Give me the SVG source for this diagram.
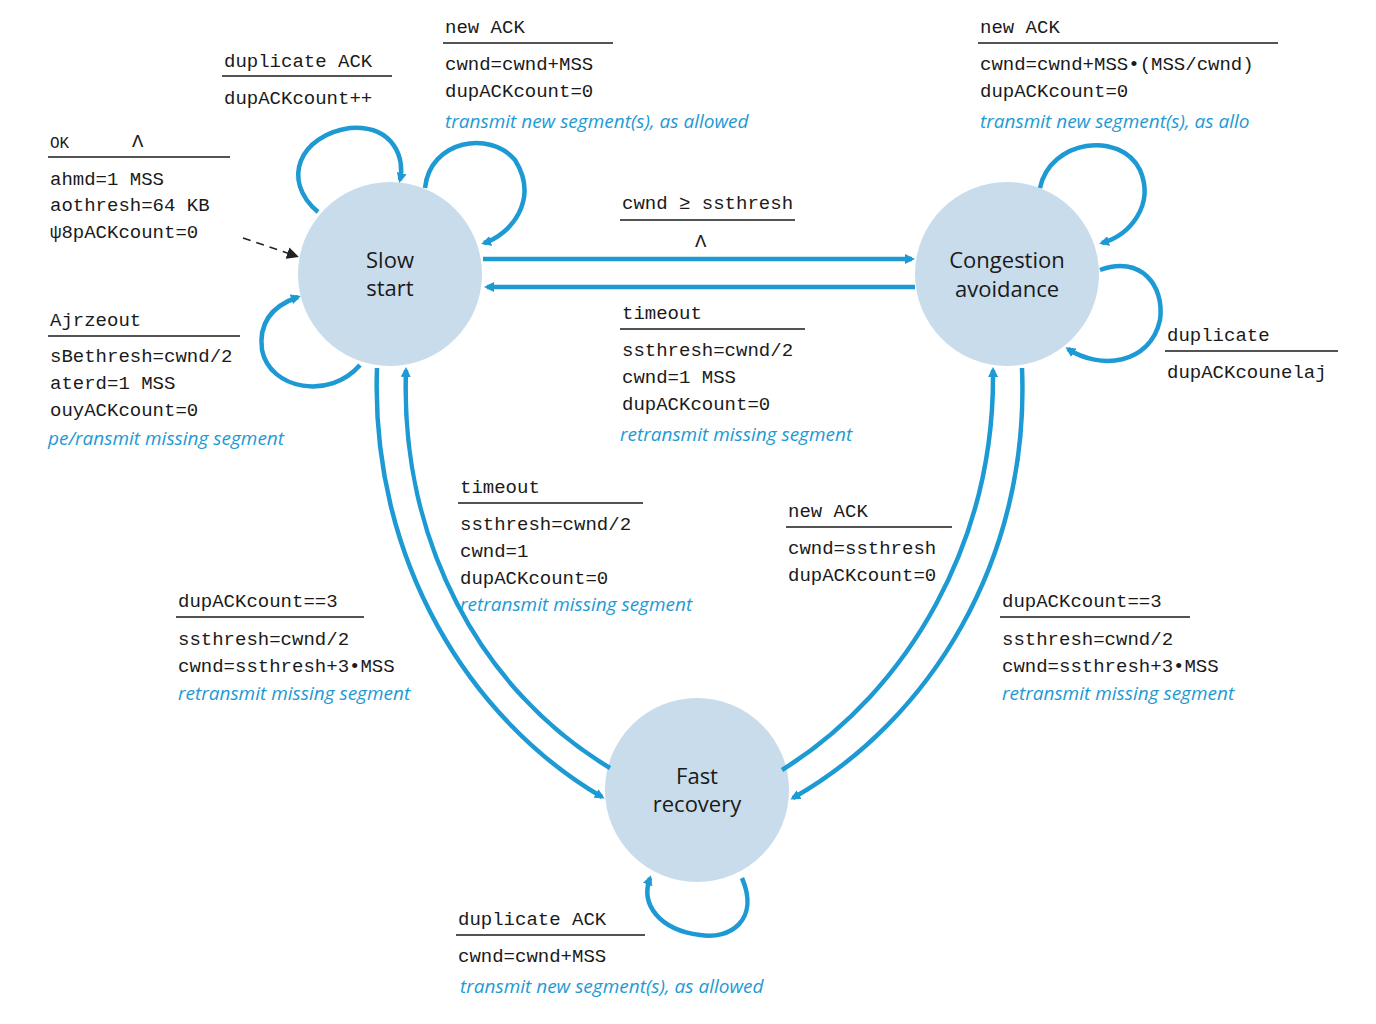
<svg xmlns="http://www.w3.org/2000/svg" width="1376" height="1024" viewBox="0 0 1376 1024">
<style>
.m{font-family:"Liberation Mono","DejaVu Sans Mono",monospace;font-size:19px;fill:#1a1a1a}
.b{font-family:"Open Sans","Liberation Sans",sans-serif;font-size:19px;font-style:italic;fill:#1d9ad4}
.n{font-family:"Open Sans","Liberation Sans",sans-serif;font-size:22px;fill:#1a1a1a;text-anchor:middle}
.st{fill:#c8dceb}
.u{stroke:#1a1a1a;stroke-width:1.6}
.c{fill:none;stroke:#1d9ad4;stroke-width:4.5}
</style>
<defs>
<marker id="a" markerWidth="10" markerHeight="10" refX="7" refY="5" orient="auto" markerUnits="userSpaceOnUse" viewBox="0 0 10 10"><path d="M0,0L10,5L0,10z" fill="#1d9ad4"/></marker>
<marker id="k" markerWidth="12" markerHeight="12" refX="9" refY="6" orient="auto" markerUnits="userSpaceOnUse" viewBox="0 0 12 12"><path d="M0,0L12,6L0,12z" fill="#222"/></marker>
</defs>
<rect width="1376" height="1024" fill="#fff"/>
<g id="slow"><circle class="st" cx="390" cy="274" r="92"/><text class="n" x="390" y="268">Slow</text><text class="n" x="390" y="296">start</text></g>
<g id="cong"><circle class="st" cx="1007" cy="274" r="92"/><text class="n" x="1007" y="268">Congestion</text><text class="n" x="1007" y="297">avoidance</text></g>
<g id="fast"><circle class="st" cx="697" cy="790" r="92"/><text class="n" x="697" y="784">Fast</text><text class="n" x="697" y="812">recovery</text></g>
<g id="connectors">
<path class="c" marker-end="url(#a)" d="M483,259L912,259"/>
<path class="c" marker-end="url(#a)" d="M915,287L487,287"/>
<path class="c" marker-end="url(#a)" d="M377,368C370,560 470,720 602,797"/>
<path class="c" marker-end="url(#a)" d="M610,768C480,690 400,540 406,370"/>
<path class="c" marker-end="url(#a)" d="M1022,368C1030,560 930,720 793,798"/>
<path class="c" marker-end="url(#a)" d="M782,770C910,690 995,540 993,370"/>
<path class="c" marker-end="url(#a)" d="M318,212C280,180 300,135 350,128C395,125 405,160 400,180"/>
<path class="c" marker-end="url(#a)" d="M425,188C430,140 490,130 515,160C540,200 510,235 484,243"/>
<path class="c" marker-end="url(#a)" d="M360,365C330,400 270,390 262,350C258,320 275,305 298,297"/>
<path class="c" marker-end="url(#a)" d="M1040,188C1050,140 1120,130 1140,170C1155,205 1130,235 1102,243"/>
<path class="c" marker-end="url(#a)" d="M1100,270C1140,255 1165,285 1160,320C1150,365 1100,370 1068,349"/>
<path class="c" marker-end="url(#a)" d="M742,878C760,920 730,940 700,935C660,930 640,905 650,878"/>
<path d="M243,238L296,256" stroke="#222" stroke-width="1.5" stroke-dasharray="8,6" fill="none" marker-end="url(#k)"/>
</g>
<g id="labels">
<text class="m" x="224" y="67">duplicate ACK</text><line class="u" x1="222" y1="76" x2="392" y2="76"/>
<text class="m" x="224" y="104">dupACKcount++</text>
<text class="m" x="445" y="33">new ACK</text><line class="u" x1="443" y1="43" x2="613" y2="43"/>
<text class="m" x="445" y="70">cwnd=cwnd+MSS</text><text class="m" x="445" y="97">dupACKcount=0</text>
<text class="b" x="445" y="128">transmit new segment(s), as allowed</text>
<text class="m" x="980" y="33">new ACK</text><line class="u" x1="978" y1="43" x2="1278" y2="43"/>
<text class="m" x="980" y="70">cwnd=cwnd+MSS•(MSS/cwnd)</text><text class="m" x="980" y="97">dupACKcount=0</text>
<text class="b" x="980" y="128">transmit new segment(s), as allo</text>
<text class="m" x="50" y="148" style="font-size:16px">OK</text><text class="m" x="132" y="147">Λ</text><line class="u" x1="48" y1="157" x2="230" y2="157"/>
<text class="m" x="50" y="185">ahmd=1 MSS</text><text class="m" x="50" y="211">aothresh=64 KB</text><text class="m" x="50" y="238">ψ8pACKcount=0</text>
<text class="m" x="50" y="326">Ajrzeout</text><line class="u" x1="48" y1="336" x2="240" y2="336"/>
<text class="m" x="50" y="362">sBethresh=cwnd/2</text><text class="m" x="50" y="389">aterd=1 MSS</text><text class="m" x="50" y="416">ouyACKcount=0</text>
<text class="b" x="48" y="445">pe/ransmit missing segment</text>
<text class="m" x="622" y="209">cwnd ≥ ssthresh</text><line class="u" x1="620" y1="220" x2="795" y2="220"/>
<text class="m" x="695" y="247">Λ</text>
<text class="m" x="622" y="319">timeout</text><line class="u" x1="620" y1="329" x2="805" y2="329"/>
<text class="m" x="622" y="356">ssthresh=cwnd/2</text><text class="m" x="622" y="383">cwnd=1 MSS</text><text class="m" x="622" y="410">dupACKcount=0</text>
<text class="b" x="620" y="441">retransmit missing segment</text>
<text class="m" x="1167" y="341">duplicate</text><line class="u" x1="1165" y1="351" x2="1338" y2="351"/>
<text class="m" x="1167" y="378">dupACKcounelaj</text>
<text class="m" x="460" y="493">timeout</text><line class="u" x1="458" y1="503" x2="643" y2="503"/>
<text class="m" x="460" y="530">ssthresh=cwnd/2</text><text class="m" x="460" y="557">cwnd=1</text><text class="m" x="460" y="584">dupACKcount=0</text>
<text class="b" x="460" y="611">retransmit missing segment</text>
<text class="m" x="788" y="517">new ACK</text><line class="u" x1="786" y1="527" x2="952" y2="527"/>
<text class="m" x="788" y="554">cwnd=ssthresh</text><text class="m" x="788" y="581">dupACKcount=0</text>
<text class="m" x="178" y="607">dupACKcount==3</text><line class="u" x1="176" y1="617" x2="364" y2="617"/>
<text class="m" x="178" y="645">ssthresh=cwnd/2</text><text class="m" x="178" y="672">cwnd=ssthresh+3•MSS</text>
<text class="b" x="178" y="700">retransmit missing segment</text>
<text class="m" x="1002" y="607">dupACKcount==3</text><line class="u" x1="1000" y1="617" x2="1190" y2="617"/>
<text class="m" x="1002" y="645">ssthresh=cwnd/2</text><text class="m" x="1002" y="672">cwnd=ssthresh+3•MSS</text>
<text class="b" x="1002" y="700">retransmit missing segment</text>
<text class="m" x="458" y="925">duplicate ACK</text><line class="u" x1="456" y1="935" x2="645" y2="935"/>
<text class="m" x="458" y="962">cwnd=cwnd+MSS</text>
<text class="b" x="460" y="993">transmit new segment(s), as allowed</text>
</g>
</svg>
